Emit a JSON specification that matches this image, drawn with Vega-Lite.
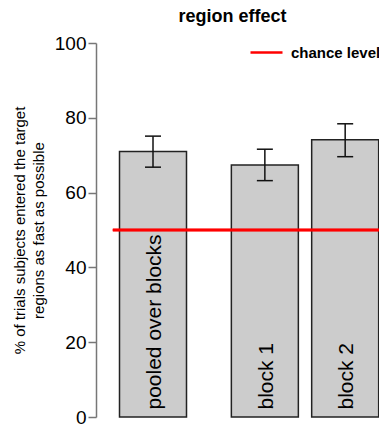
{
  "$schema": "https://vega.github.io/schema/vega-lite/v6.json",
  "width": 283,
  "height": 374,
  "autosize": "none",
  "padding": {"left": 96, "top": 43, "right": 0, "bottom": 8},
  "background": "white",
  "title": {"text": "region effect", "fontSize": 18, "fontWeight": "bold", "font": "Liberation Sans", "color": "black", "anchor": "middle", "offset": 8, "dx": -5},
  "data": {"values": [
    {"condition": "pooled over blocks", "pos": 0.846, "mean": 71.0, "lo": 66.8, "hi": 75.1},
    {"condition": "block 1", "pos": 2.506, "mean": 67.4, "lo": 63.2, "hi": 71.6},
    {"condition": "block 2", "pos": 3.698, "mean": 74.1, "lo": 69.6, "hi": 78.4}
  ]},
  "layer": [
    {
      "mark": {"type": "bar", "width": 67, "fill": "#cccccc", "stroke": "#222222", "strokeWidth": 1.5},
      "encoding": {
        "x": {"field": "pos", "type": "quantitative", "scale": {"domain": [0, 4.2], "nice": false, "zero": false, "padding": 0}, "axis": null},
        "y": {"field": "mean", "type": "quantitative", "scale": {"domain": [0, 100], "nice": false, "padding": 0},
          "axis": {"values": [0, 20, 40, 60, 80, 100], "grid": false, "domainColor": "#777777", "tickColor": "#777777", "tickSize": 8, "domainWidth": 1.5, "tickWidth": 1.5,
            "labelFontSize": 19, "labelColor": "black", "labelFont": "Liberation Sans", "labelPadding": 2, "labelFlush": false,
            "title": ["% of trials subjects entered the target", "regions as fast as possible"], "titleFontSize": 15, "titleFontWeight": "normal", "titleColor": "black", "titleFont": "Liberation Sans", "titlePadding": 8, "titleLineHeight": 19}}
      }
    },
    {
      "mark": {"type": "rule", "color": "#111111", "strokeWidth": 1.5},
      "encoding": {
        "x": {"field": "pos", "type": "quantitative"},
        "y": {"field": "lo", "type": "quantitative"},
        "y2": {"field": "hi"}
      }
    },
    {
      "mark": {"type": "tick", "orient": "horizontal", "size": 16, "thickness": 1.5, "color": "#111111", "opacity": 1},
      "encoding": {
        "x": {"field": "pos", "type": "quantitative"},
        "y": {"field": "hi", "type": "quantitative"}
      }
    },
    {
      "mark": {"type": "tick", "orient": "horizontal", "size": 16, "thickness": 1.5, "color": "#111111", "opacity": 1},
      "encoding": {
        "x": {"field": "pos", "type": "quantitative"},
        "y": {"field": "lo", "type": "quantitative"}
      }
    },
    {
      "mark": {"type": "text", "angle": 270, "align": "left", "baseline": "middle", "fontSize": 21, "font": "Liberation Sans", "color": "black", "dy": 2},
      "encoding": {
        "x": {"field": "pos", "type": "quantitative"},
        "y": {"datum": 2},
        "text": {"field": "condition"}
      }
    },
    {
      "mark": {"type": "rule", "strokeWidth": 2.5},
      "encoding": {
        "x": {"datum": 0.25},
        "x2": {"datum": 4.2},
        "y": {"datum": 50},
        "color": {"datum": "chance level", "type": "nominal", "scale": {"range": ["#ff0000"]},
          "legend": {"title": null, "orient": "none", "legendX": 153, "legendY": -8, "padding": 0, "symbolType": "stroke", "symbolSize": 1024, "symbolStrokeWidth": 2.5,
            "labelFontSize": 15, "labelFontWeight": "bold", "labelFont": "Liberation Sans", "labelColor": "black", "labelOffset": 7}}
      }
    }
  ],
  "config": {"view": {"stroke": null}}
}
